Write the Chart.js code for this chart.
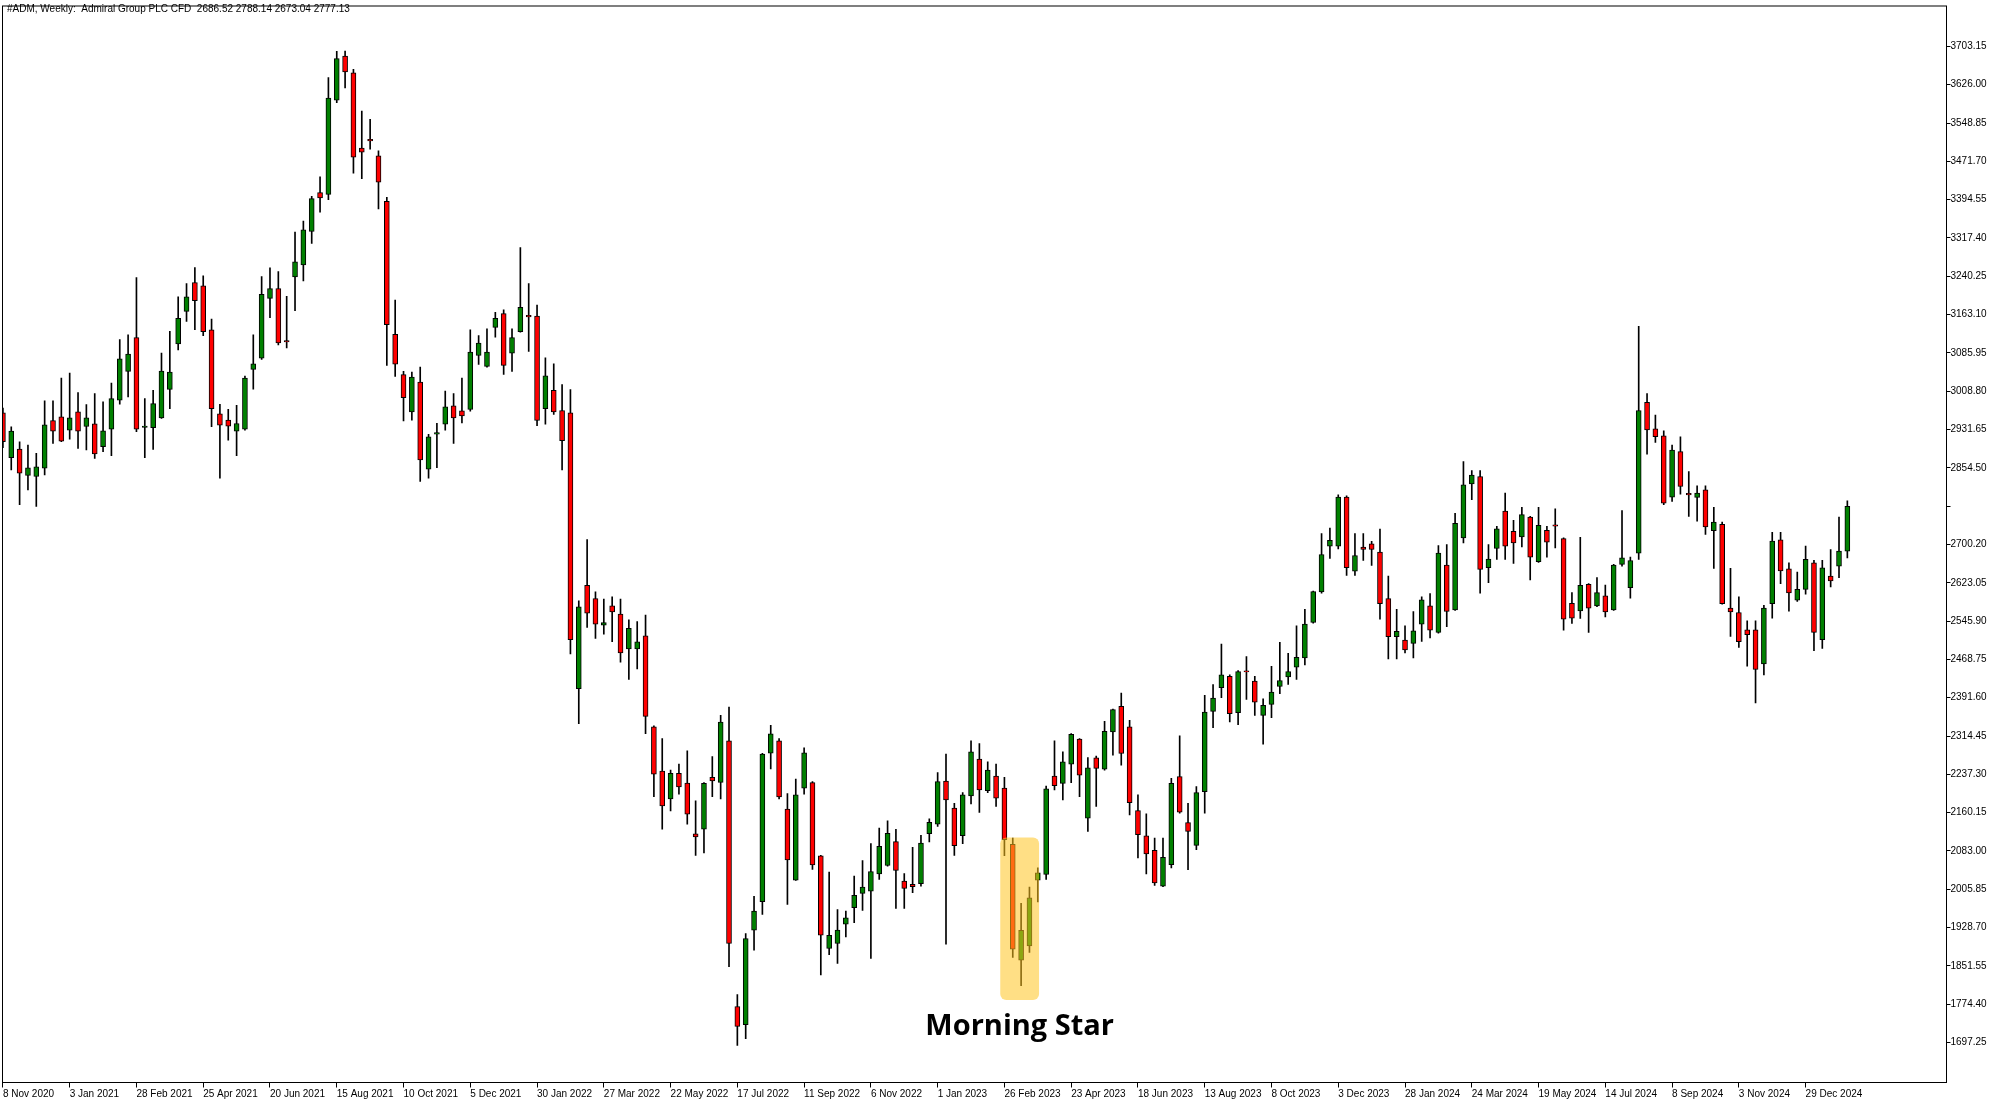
<!DOCTYPE html>
<html>
<head>
<meta charset="utf-8">
<title>#ADM, Weekly</title>
<script src="https://cdn.jsdelivr.net/npm/chart.js@4.4.1/dist/chart.umd.min.js"></script>
<style>
  html, body { margin: 0; padding: 0; background: #fff; }
  #wrap { width: 2000px; height: 1106px; position: relative; }
</style>
</head>
<body>
<div id="wrap"><canvas id="chart"></canvas></div>
<script>
// weekly OHLC, first bar = week of 8 Nov 2020
const opens = [
  2965.2,2875.1,2892.4,2839.0,2837.0,2853.7,2949.9,2957.2,2930.5,2967.2,
  2937.8,2943.2,2897.1,2932.5,2990.6,3048.7,3116.8,2936.0,2935.2,2955.2,
  3012.6,3104.1,3169.6,3227.7,3221.0,3132.2,2963.2,2950.5,2928.5,2932.5,
  3052.7,3075.5,3195.6,3215.7,3110.8,3239.1,3263.1,3330.5,3408.7,3405.3,
  3595.0,3683.8,3649.8,3498.2,3516.0,3482.8,3391.3,3123.5,3042.1,2967.3,
  3027.4,2851.7,2922.5,2942.5,2979.3,2969.3,2972.0,3080.8,3058.7,3137.5,
  3164.9,3085.4,3128.9,3161.5,3160.2,2973.9,3010.6,2969.9,2965.2,2409.6,
  2618.0,2591.3,2537.8,2576.5,2559.8,2489.7,2489.7,2516.4,2332.8,2243.9,
  2187.9,2239.3,2219.9,2117.7,2127.1,2231.3,2221.3,2304.8,1769.9,1733.1,
  1923.5,1980.9,2280.1,2304.8,2167.2,2024.3,2209.3,2220.6,2073.0,1886.7,
  1896.7,1935.5,1968.9,1997.6,2002.3,2037.0,2053.7,2101.8,2022.3,2015.6,
  2017.0,2117.8,2137.1,2223.9,2169.2,2113.7,2193.9,2268.0,2204.5,2233.9,
  2209.9,2096.4,1863.3,1892.0,2024.2,2035.6,2233.9,2219.2,2258.0,2308.1,
  2149.1,2270.7,2247.9,2322.7,2374.2,2332.8,2164.5,2113.7,2084.3,2012.2,
  2055.6,2232.6,2140.4,2094.4,2202.5,2364.1,2411.6,2434.9,2361.5,2446.0,
  2424.9,2356.1,2378.2,2414.2,2433.6,2452.9,2471.7,2543.1,2604.6,2696.7,
  2696.7,2795.6,2646.6,2694.7,2701.4,2684.7,2591.2,2514.4,2507.7,2501.1,
  2539.8,2576.6,2523.1,2658.7,2568.6,2713.5,2822.3,2837.0,2653.4,2692.1,
  2767.5,2726.8,2715.5,2755.5,2665.4,2728.8,2740.0,2712.1,2581.9,2566.6,
  2620.0,2576.6,2596.6,2568.6,2660.0,2613.3,2682.7,2986.6,2933.2,2919.2,
  2795.6,2887.1,2803.0,2795.0,2810.3,2728.2,2740.9,2571.9,2563.2,2528.5,
  2528.5,2459.7,2581.2,2709.5,2651.4,2587.9,2609.9,2663.4,2508.5,2636.7,
  2656.7,2686.52
];
const highs = [
  2975.0,2937.2,2907.1,2900.4,2883.7,2989.3,2989.3,3035.3,3045.3,3005.9,
  2981.9,3003.9,2987.2,3025.3,3112.8,3122.1,3237.7,2993.9,3010.6,3085.4,
  3129.5,3198.9,3225.7,3257.7,3241.0,3154.2,2982.6,2972.5,2980.6,3039.4,
  3122.2,3239.7,3257.1,3249.8,3199.7,3329.2,3351.2,3401.3,3440.7,3640.4,
  3693.2,3693.8,3657.1,3573.0,3556.3,3492.8,3399.3,3192.3,3048.7,3047.4,
  3057.4,2921.9,2943.9,3009.3,3004.0,3035.4,3132.2,3120.9,3134.2,3167.6,
  3172.9,3134.2,3297.8,3225.7,3182.3,3076.1,3064.1,3022.0,3012.0,2586.6,
  2710.1,2605.0,2590.0,2595.0,2590.0,2548.5,2545.1,2557.8,2334.8,2309.4,
  2245.9,2257.9,2284.7,2183.9,2220.6,2273.3,2356.2,2372.9,1793.9,1916.8,
  1991.6,2279.4,2336.2,2309.4,2198.6,2228.0,2290.7,2222.6,2074.4,2040.3,
  1964.9,1962.2,2032.3,2063.7,2097.8,2129.1,2143.8,2126.5,2037.6,2090.4,
  2114.4,2147.8,2240.7,2278.0,2179.2,2200.5,2304.7,2299.4,2262.6,2258.0,
  2231.3,2109.0,1977.5,2010.2,2049.0,2213.9,2304.7,2282.7,2319.4,2309.4,
  2271.3,2274.0,2344.1,2368.8,2400.9,2346.1,2195.9,2157.8,2109.0,2109.0,
  2229.3,2314.7,2179.2,2212.6,2396.2,2418.2,2499.7,2437.6,2446.3,2474.4,
  2434.9,2389.5,2455.0,2503.0,2481.0,2536.4,2569.8,2606.6,2722.1,2733.4,
  2800.2,2798.2,2722.1,2722.1,2706.7,2731.4,2636.6,2569.8,2536.4,2565.2,
  2594.6,2601.3,2698.1,2700.1,2762.9,2867.0,2849.0,2849.0,2700.1,2736.8,
  2803.6,2748.8,2774.9,2756.9,2774.9,2736.8,2772.2,2713.5,2603.3,2714.8,
  2621.3,2633.3,2618.6,2660.0,2768.2,2674.7,3139.5,3004.0,2960.6,2929.2,
  2900.5,2917.2,2847.0,2818.3,2818.3,2774.9,2745.5,2652.0,2594.6,2546.5,
  2546.5,2577.9,2724.8,2724.8,2663.4,2644.7,2696.8,2668.1,2668.1,2690.1,
  2755.5,2788.14
];
const lows = [
  2895.0,2850.3,2780.2,2810.3,2776.9,2840.3,2903.8,2907.1,2912.4,2893.8,
  2890.4,2873.7,2887.1,2879.1,2982.6,2997.3,2927.1,2875.1,2891.7,2953.9,
  2973.9,3092.1,3149.5,3132.8,3120.8,2937.2,2833.6,2910.4,2879.1,2930.5,
  3012.7,3073.0,3157.0,3102.2,3096.2,3171.0,3231.0,3306.5,3369.3,3394.6,
  3589.7,3619.7,3448.1,3436.7,3496.2,3375.9,3060.7,3038.7,2949.2,2950.6,
  2827.0,2833.7,2855.1,2930.5,2903.8,2945.2,2968.6,3062.8,3057.4,3117.5,
  3042.7,3048.7,3127.5,3088.8,2939.2,2942.5,2961.9,2850.4,2479.7,2339.5,
  2533.2,2511.1,2519.8,2504.4,2463.0,2428.3,2449.6,2319.4,2192.5,2127.1,
  2163.8,2197.2,2137.1,2074.3,2079.0,2192.5,2187.9,1850.0,1691.7,1705.1,
  1883.4,1955.5,2248.0,2187.9,1975.5,2023.6,2197.3,2045.7,1833.3,1874.0,
  1856.7,1910.1,1938.8,1963.5,1866.7,2025.6,2052.3,1967.5,1967.5,1998.9,
  2012.3,2101.1,2132.5,1895.4,2074.3,2097.7,2177.8,2160.5,2200.5,2172.5,
  2073.7,1868.6,1811.9,1878.7,1980.2,2025.6,2205.9,2185.8,2220.6,2192.5,
  2122.4,2172.5,2245.9,2276.0,2256.0,2155.8,2069.0,2036.9,2013.6,2010.9,
  2049.0,2159.1,2045.6,2085.7,2159.1,2331.4,2391.5,2342.8,2337.4,2388.2,
  2356.1,2298.0,2351.5,2399.6,2418.2,2428.3,2457.6,2541.8,2601.9,2672.0,
  2691.4,2637.9,2637.9,2668.0,2658.0,2549.8,2469.7,2469.7,2481.7,2471.7,
  2505.1,2511.8,2521.8,2534.5,2567.2,2703.4,2790.2,2601.9,2623.3,2670.1,
  2670.1,2662.0,2695.4,2628.6,2664.0,2674.7,2693.4,2527.8,2541.2,2551.2,
  2523.1,2575.2,2554.5,2567.2,2656.7,2591.9,2670.1,2882.0,2905.8,2780.3,
  2786.9,2801.6,2756.9,2746.9,2720.2,2652.0,2579.9,2515.1,2493.1,2455.0,
  2380.9,2437.7,2551.9,2621.3,2565.9,2585.3,2599.9,2486.4,2491.1,2614.6,
  2633.3,2673.04
];
const closes = [
  2907.1,2928.5,2843.7,2854.4,2856.4,2941.2,2928.5,2908.4,2955.2,2928.5,
  2955.2,2882.4,2929.1,2993.9,3074.0,3083.4,2932.5,2938.5,2983.9,3049.3,
  3047.3,3155.5,3198.9,3190.9,3128.8,2973.9,2940.5,2938.5,2943.8,3035.4,
  3064.1,3203.7,3215.7,3106.2,3108.0,3269.1,3333.9,3396.7,3398.0,3599.0,
  3678.5,3651.8,3480.1,3490.1,3513.0,3430.0,3142.9,3063.4,2996.0,3037.4,
  2870.4,2917.2,2925.5,2977.3,2955.2,2959.2,3087.5,3105.5,3087.4,3155.6,
  3060.7,3116.8,3177.6,3158.5,2949.9,3040.0,2967.2,2909.1,2508.5,2574.6,
  2561.9,2539.9,2543.1,2564.5,2481.7,2531.1,2504.4,2354.1,2237.9,2173.8,
  2239.3,2211.9,2157.1,2111.1,2219.3,2223.9,2342.8,1896.7,1729.8,1906.8,
  1962.2,2278.1,2318.8,2191.9,2065.0,2195.9,2280.7,2055.0,1913.4,1913.4,
  1923.5,1948.2,1993.6,2010.3,2041.7,2092.4,2118.4,2043.7,2007.6,2010.9,
  2099.1,2140.5,2222.6,2185.8,2093.7,2195.9,2282.7,2205.9,2245.9,2189.2,
  2105.7,1885.3,1923.4,1988.8,2039.0,2207.9,2214.6,2262.6,2318.1,2235.9,
  2250.6,2249.3,2324.1,2367.5,2279.3,2180.5,2115.7,2077.0,2018.9,2070.3,
  2219.2,2161.1,2122.4,2200.5,2362.8,2390.9,2437.6,2359.5,2444.3,2443.5,
  2382.8,2376.2,2402.9,2426.3,2444.3,2473.0,2539.8,2605.2,2680.0,2708.7,
  2795.6,2653.3,2678.0,2690.0,2690.0,2581.2,2514.4,2525.1,2487.7,2526.5,
  2588.6,2527.8,2682.7,2565.2,2742.9,2820.3,2839.7,2650.0,2670.7,2731.5,
  2696.8,2703.4,2760.2,2674.7,2738.8,2704.8,2737.0,2549.8,2551.9,2618.0,
  2571.9,2603.3,2564.5,2658.7,2673.4,2668.0,2969.9,2931.1,2917.2,2783.6,
  2890.4,2817.0,2800.0,2803.6,2735.5,2745.5,2581.2,2564.5,2504.4,2518.5,
  2448.4,2571.9,2706.8,2646.7,2602.6,2609.9,2670.1,2523.1,2653.4,2626.7,
  2686.8,2777.13
];

// price axis labels (2777.35 is hidden under the current price in the original)
const priceTicks = [
  3703.15,3626.00,3548.85,3471.70,3394.55,3317.40,3240.25,3163.10,3085.95,
  3008.80,2931.65,2854.50,2777.35,2700.20,2623.05,2545.90,2468.75,2391.60,
  2314.45,2237.30,2160.15,2083.00,2005.85,1928.70,1851.55,1774.40,1697.25
];
const hiddenPriceTick = 2777.35;

const monthNames = ['Jan','Feb','Mar','Apr','May','Jun','Jul','Aug','Sep','Oct','Nov','Dec'];
const firstWeek = Date.UTC(2020, 10, 8);
const weeks = opens.map((_, i) => {
    const d = new Date(firstWeek + i * 7 * 86400000);
    return `${d.getUTCDate()} ${monthNames[d.getUTCMonth()]} ${d.getUTCFullYear()}`;
});
// a date label every 8 weeks
const dateTicks = weeks.map((_, i) => i).filter(i => i % 8 === 0);

const header = '#ADM, Weekly:  Admiral Group PLC CFD  2686.52 2788.14 2673.04 2777.13';
const morningStar = { from: 119.5, to: 124.15, top: 2110, bottom: 1783, label: 'Morning Star', labelAt: 1712 };

const UP = '#008000', DOWN = '#ff0000';
const FONT = 'Liberation Sans';

const frame = {
    id: 'frame',
    afterDraw(chart) {
        const { ctx, chartArea: a } = chart;
        ctx.save();
        ctx.strokeStyle = '#000';
        ctx.lineWidth = 1;
        ctx.strokeRect(a.left, a.top, a.right - a.left, a.bottom - a.top);
        ctx.fillStyle = '#000';
        ctx.font = `10px "${FONT}"`;
        ctx.textBaseline = 'alphabetic';
        ctx.fillText(header, 7, 12);
        ctx.restore();
    }
};

const highlight = {
    id: 'highlight',
    afterDatasetsDraw(chart) {
        const { ctx } = chart;
        const x = chart.scales.x, y = chart.scales.y;
        const x0 = x.getPixelForValue(morningStar.from), x1 = x.getPixelForValue(morningStar.to);
        const y0 = y.getPixelForValue(morningStar.top), y1 = y.getPixelForValue(morningStar.bottom);
        ctx.save();
        ctx.fillStyle = 'rgba(255,196,32,0.55)';
        ctx.beginPath();
        ctx.roundRect(x0, y0, x1 - x0, y1 - y0, 6);
        ctx.fill();
        ctx.fillStyle = '#000';
        ctx.font = 'bold 29px "Open Sans"';
        ctx.textAlign = 'center';
        ctx.textBaseline = 'alphabetic';
        ctx.fillText(morningStar.label, (x0 + x1) / 2, y.getPixelForValue(morningStar.labelAt));
        ctx.restore();
    }
};

new Chart(document.getElementById('chart'), {
    type: 'bar',
    data: {
        datasets: [
            {
                label: 'body',
                data: opens.map((o, i) => ({ x: i, y: [o, closes[i]] })),
                backgroundColor: closes.map((c, i) => c >= opens[i] ? UP : DOWN),
                borderColor: '#000',
                borderWidth: 1,
                borderSkipped: false,
                barThickness: 5,
                grouped: false,
                order: 0
            },
            {
                label: 'wick',
                data: lows.map((l, i) => ({ x: i, y: [l, highs[i]] })),
                backgroundColor: '#000',
                borderWidth: 0,
                barThickness: 1,
                grouped: false,
                order: 1
            }
        ]
    },
    options: {
        responsive: true,
        maintainAspectRatio: false,
        animation: false,
        events: [],
        layout: { padding: { left: 2.5, top: 0.5, right: 0, bottom: 0 } },
        plugins: { legend: { display: false }, tooltip: { enabled: false } },
        scales: {
            x: {
                type: 'linear',
                min: -0.05,
                max: 232.88,
                offset: false,
                afterBuildTicks: s => { s.ticks = dateTicks.map(v => ({ value: v })); },
                afterFit: s => { s.height = 23.5; },
                ticks: {
                    callback: v => weeks[v],
                    align: 'start',
                    maxRotation: 0,
                    autoSkip: false,
                    padding: 1,
                    color: '#000',
                    font: { family: FONT, size: 10 }
                },
                grid: { drawOnChartArea: false, offset: false, tickLength: 5, color: '#000' },
                border: { color: '#000' }
            },
            y: {
                position: 'right',
                min: 1616.8,
                max: 3784.5,
                afterBuildTicks: s => { s.ticks = priceTicks.map(v => ({ value: v })); },
                afterFit: s => { s.width = 53.5; },
                ticks: {
                    callback: v => Math.abs(v - hiddenPriceTick) < 0.01 ? '' : v.toFixed(2),
                    autoSkip: false,
                    padding: 0,
                    color: '#000',
                    font: { family: FONT, size: 10 }
                },
                grid: { drawOnChartArea: false, tickLength: 4, color: '#000' },
                border: { color: '#000' }
            }
        }
    },
    plugins: [highlight, frame]
});
</script>
</body>
</html>
